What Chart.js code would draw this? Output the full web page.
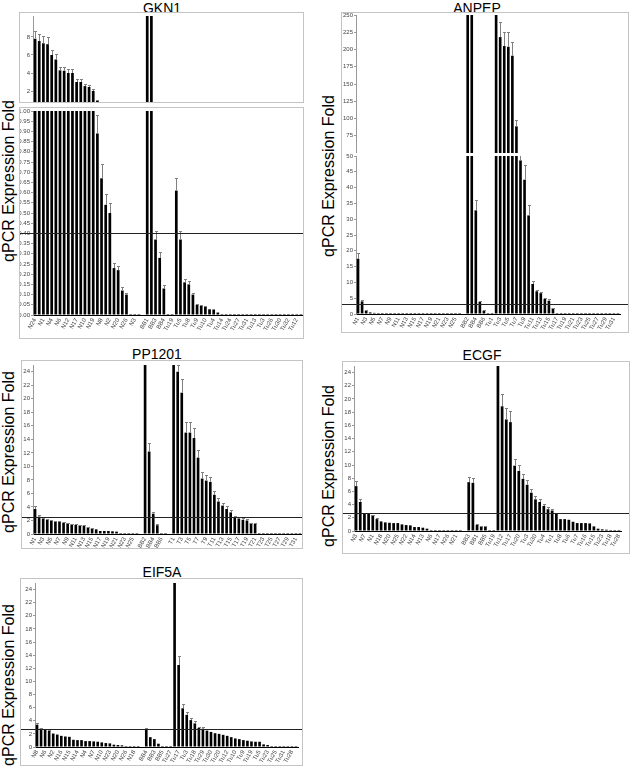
<!DOCTYPE html>
<html>
<head>
<meta charset="utf-8">
<title>qPCR expression fold</title>
<script src="https://cdn.jsdelivr.net/npm/chart.js@4.4.1/dist/chart.umd.min.js"></script>
<style>
  body { margin: 0; width: 631px; height: 768px; position: relative; overflow: hidden; background: #fff;
         font-family: "Liberation Sans", Arial, sans-serif; color: #000; }
  .box { position: absolute; border: 1px solid #c4c4c4; box-sizing: border-box; }
  canvas { position: absolute; }
  .title { position: absolute; font-size: 14px; transform: translate(-50%, -50%); white-space: nowrap; }
  .ytitle { position: absolute; font-size: 16px; transform: translate(-50%, -50%) rotate(-90deg); white-space: nowrap; }
</style>
</head>
<body>
<div class="title" style="left:162px;top:8px">GKN1</div>
<div class="title" style="left:477px;top:8px">ANPEP</div>
<div class="title" style="left:157px;top:354px">PP1201</div>
<div class="title" style="left:482px;top:355px">ECGF</div>
<div class="title" style="left:162px;top:572px">EIF5A</div>
<div class="ytitle" style="left:9px;top:181px">qPCR Expression Fold</div>
<div class="ytitle" style="left:329px;top:176px">qPCR Expression Fold</div>
<div class="ytitle" style="left:9px;top:452px">qPCR Expression Fold</div>
<div class="ytitle" style="left:329px;top:466px">qPCR Expression Fold</div>
<div class="ytitle" style="left:9px;top:685px">qPCR Expression Fold</div>

<script>
// ---- data: N = normal, B = borderline, T = tumour samples ----
const seq = (p, a, b) => Array.from({ length: b - a + 1 }, (_, i) => p + (a + i));

// GKN1
const gknNLab = ['N24','N11','N1','N5','N4','N14','N6','N9','N12','N13','N17','N21','N10','N7','N19','N15','N8','N16','N2','N18','N20','N22','N26','N23','N3','N25'];
const gknBLab = ['BB1','BB2','BB3','BB5','BB4','BB6'];
const gknTLab = ['Tu19','Tu1','Tu5','Tu2','Tu8','Tu6','Tu9','Tu7','Tu10','Tu11','Tu4','Tu15','Tu14','Tu16','Tu24','Tu17','Tu27','Tu18','Tu31','Tu20','Tu13','Tu21','Tu3','Tu22','Tu26','Tu23','Tu30','Tu25','Tu32','Tu28','Tu12','Tu29'];
const gknN = [7.8, 7.55, 7.3, 7.2, 6.0, 5.5, 4.3, 4.25, 4.0, 4.0, 3.0, 3.0, 2.55, 2.45, 2.0, 0.89, 0.67, 0.54, 0.50, 0.23, 0.22, 0.12, 0.10, 0.004, 0.003, 0.003];
const gknNErr = [0.9, 0.8, 0.8, 0.8, 0.6, 0.6, 0.4, 0.4, 0.4, 0.4, 0.3, 0.3, 0.2, 0.2, 0.2, 0.09, 0.07, 0.055, 0.05, 0.025, 0.02, 0.015, 0.01];
const gknB = [15, 15, 0.37, 0.28, 0.13, 0.003];
const gknBErr = [0, 0, 0.04, 0.03, 0.015];
const gknT = [0.003, 0.61, 0.37, 0.16, 0.15, 0.10, 0.05, 0.046, 0.04, 0.028, 0.027, 0.012, 0.005, 0.004, 0.004, 0.003,
              0.003, 0.003, 0.003, 0.003, 0.003, 0.003, 0.003, 0.003, 0.003, 0.003, 0.003, 0.003, 0.003, 0.003, 0.003, 0.003];
const gknTErr = [0, 0.06, 0.04, 0.015, 0.015, 0.008, 0.003, 0.003, 0.003];
const gknHighTicks = [2, 4, 6, 8];
const gknLowTicks = [0, 0.05, 0.1, 0.15, 0.2, 0.25, 0.3, 0.35, 0.4, 0.45, 0.5, 0.55, 0.6, 0.65, 0.7, 0.75, 0.8, 0.85, 0.9, 0.95, 1];

// ANPEP
const apNLab = seq('N', 1, 26);
const apBLab = seq('BB', 2, 7);
const apTLab = seq('Tu', 1, 32);
const apN = [17.5, 4.0, 1.05, 0.5, 0.35, 0.3, 0.3, 0.25, 0.25, 0.2, 0.2, 0.2, 0.2, 0.15, 0.15, 0.15, 0.15, 0.1, 0.1, 0.1, 0.1, 0.1, 0.1, 0.1, 0.1, 0.1];
const apNErr = [1.8, 0.4, 0.1];
const apB = [270, 270, 32.8, 3.8, 1.05, 0.3];
const apBErr = [0, 0, 3.2, 0.4, 0.1];
const apT = [0.2, 270, 218, 205, 204, 191, 88.6, 48.6, 42.5, 31.2, 9.5, 7.2, 6.6, 4.8, 4.2, 1.8,
             0.2, 0.2, 0.2, 0.2, 0.2, 0.2, 0.15, 0.15, 0.15, 0.15, 0.15, 0.1, 0.1, 0.1, 0.1, 0.1];
const apTErr = [0, 0, 22, 21, 21, 20, 8.6, 2, 4.5, 3.4, 1.1, 0.5, 0.5, 0.4, 0.4, 0.1];
const apHighTicks = [75, 100, 125, 150, 175, 200, 225, 250];
const apLowTicks = [0, 5, 10, 15, 20, 25, 30, 35, 40, 45, 50];

// PP1201
const ppNLab = seq('N', 1, 26);
const ppBLab = seq('BB', 2, 7);
const ppTLab = seq('T', 1, 32);
const ppN = [3.7, 2.57, 2.27, 2.07, 1.97, 1.88, 1.78, 1.68, 1.58, 1.43, 1.33, 1.28, 1.23, 0.99, 0.84, 0.69, 0.44, 0.44, 0.44, 0.4, 0.35, 0.15, 0.15, 0.1, 0.1, 0.1];
const ppNErr = [0.4, 0.2, 0.1, 0.1, 0.1, 0.1, 0.1, 0.1, 0.1, 0.1, 0.1, 0.1, 0.1, 0.1, 0.1];
const ppB = [26, 12.2, 3.0, 1.3, 0.15, 0.1];
const ppBErr = [0, 1.2, 0.3, 0.15];
const ppT = [26, 24.0, 20.9, 15.0, 15.0, 14.2, 11.3, 8.2, 7.9, 7.7, 5.8, 4.8, 4.2, 3.7, 3.2, 2.4, 2.3, 2.1, 2.0, 1.6, 1.5,
             0.15, 0.15, 0.15, 0.1, 0.1, 0.1, 0.1, 0.1, 0.1, 0.1, 0.1];
const ppTErr = [0, 1, 2.1, 1.6, 1.5, 1.5, 1.1, 0.9, 0.8, 0.8, 0.6, 0.5, 0.4, 0.4, 0.3, 0.2, 0.2, 0.2, 0.2, 0.1, 0.1];

// ECGF
const ecNLab = ['N3','N2','N7','N4','N1','N5','N18','N8','N20','N9','N25','N10','N22','N11','N14','N12','N13','N15','N6','N16','N17','N19','N26','N23','N21','N24'];
const ecBLab = ['BB3','BB4','BB1','BB2','BB5','BB6'];
const ecTLab = ['Tu19','Tu2','Tu12','Tu5','Tu17','Tu9','Tu20','Tu10','Tu3','Tu11','Tu30','Tu13','Tu4','Tu14','Tu1','Tu21','Tu8','Tu22','Tu6','Tu24','Tu7','Tu25','Tu16','Tu26','Tu15','Tu27','Tu23','Tu29','Tu18','Tu31','Tu28'];
const ecN = [6.8, 4.4, 2.6, 2.6, 2.4, 1.8, 1.45, 1.3, 1.25, 1.2, 1.2, 1.0, 0.9, 0.85, 0.6, 0.6, 0.5, 0.35, 0.15, 0.1, 0.1, 0.1, 0.1, 0.1, 0.08, 0.05];
const ecNErr = [0.7, 0.5, 0.1, 0.1, 0.1, 0.1];
const ecB = [7.4, 7.3, 0.95, 0.7, 0.75, 0.1];
const ecBErr = [0.8, 0.7, 0.05, 0.05, 0.05];
const ecT = [0.05, 26, 18.9, 16.9, 16.5, 9.9, 9.1, 7.9, 7.0, 5.8, 4.8, 4.4, 3.8, 3.3, 3.1, 2.6, 1.8, 1.8, 1.7, 1.4,
             1.2, 1.2, 1.2, 1.15, 0.7, 0.35, 0.25, 0.2, 0.15, 0.12, 0.08];
const ecTErr = [0, 0, 1.9, 1.7, 1.7, 1.0, 0.9, 0.8, 0.7, 0.6, 0.5, 0.4, 0.3, 0.3, 0.2, 0.1];

// EIF5A
const eiNLab = ['N8','N1','N6','N3','N2','N5','N16','N9','N15','N11','N14','N12','N4','N13','N7','N17','N10','N19','N23','N21','N20','N22','N26','N24','N18','N25'];
const eiBLab = ['BB4','BB2','BB3','BB1','BB5','BB6'];
const eiTLab = ['Tu27','Tu1','Tu17','Tu2','Tu3','Tu4','Tu18','Tu6','Tu29','Tu7','Tu30','Tu8','Tu20','Tu11','Tu12','Tu13','Tu10','Tu14','Tu9','Tu15','Tu19','Tu16','Tu5','Tu21','Tu23','Tu22','Tu25','Tu24','Tu31','Tu26','Tu28','Tu32'];
const eiN = [3.4, 2.85, 2.6, 2.5, 2.05, 1.9, 1.7, 1.6, 1.55, 1.1, 1.05, 1.05, 0.9, 0.9, 0.85, 0.8, 0.7, 0.6, 0.55, 0.35, 0.3, 0.25, 0.15, 0.1, 0.08, 0.05];
const eiNErr = [0.3, 0.1, 0.1, 0.1];
const eiB = [2.8, 1.5, 1.2, 0.5, 0.15, 0.05];
const eiBErr = [0.15];
const eiT = [0.05, 26, 12.5, 5.9, 4.9, 4.1, 3.6, 2.9, 2.8, 2.5, 2.3, 2.1, 2.0, 1.85, 1.7, 1.5, 1.3, 1.2, 1.05, 0.95,
             0.85, 0.8, 0.8, 0.4, 0.3, 0.1, 0.05, 0.05, 0.05, 0.05, 0.05, 0.05];
const eiTErr = [0, 0, 1.3, 0.6, 0.4, 0.3, 0.3, 0.2, 0.2];

const ticks25 = [0, 2, 4, 6, 8, 10, 12, 14, 16, 18, 20, 22, 24];

// ---- helpers ----
const pad = (arr, n) => arr.concat(new Array(n - arr.length).fill(0));
// join groups; '' / null marks an empty slot between groups
function joinGroups(groups, gaps) {
  const labels = [], values = [], errors = [];
  groups.forEach((g, i) => {
    if (i > 0 && gaps[i - 1]) { labels.push(''); values.push(null); errors.push(0); }
    labels.push(...g.lab);
    values.push(...g.val);
    errors.push(...pad(g.err, g.val.length));
  });
  return { labels, values, errors };
}

Chart.defaults.font.family = '"Liberation Sans", Arial, sans-serif';
Chart.defaults.animation = false;

const errorBars = {
  id: 'errorBars',
  afterDatasetsDraw(chart) {
    const ds = chart.data.datasets[0];
    const meta = chart.getDatasetMeta(0);
    const y = chart.scales.y;
    const { ctx, chartArea: a } = chart;
    ctx.save();
    ctx.beginPath();
    ctx.rect(a.left, a.top, a.right - a.left, a.bottom - a.top);
    ctx.clip();
    ctx.strokeStyle = '#808080';
    ctx.lineWidth = 1;
    meta.data.forEach((bar, i) => {
      const e = ds.errors[i];
      if (!e || ds.data[i] == null) return;
      const x = Math.round(bar.x) + 0.5;
      const top = Math.round(y.getPixelForValue(ds.data[i] + e)) + 0.5;
      ctx.beginPath();
      ctx.moveTo(x, bar.y);
      ctx.lineTo(x, top);
      ctx.moveTo(x - 1.5, top);
      ctx.lineTo(x + 1.5, top);
      ctx.stroke();
    });
    ctx.restore();
  }
};

const refLine = {
  id: 'refLine',
  afterDatasetsDraw(chart, args, opts) {
    if (opts.value == null) return;
    const { ctx } = chart;
    const y = Math.round(chart.scales.y.getPixelForValue(opts.value)) + 0.5;
    ctx.save();
    ctx.strokeStyle = '#222';
    ctx.lineWidth = 1;
    ctx.beginPath();
    ctx.moveTo(0, y);
    ctx.lineTo(chart.width, y);
    ctx.stroke();
    ctx.restore();
  }
};

Chart.register(errorBars, refLine);

function addBox(l, t, w, h) {
  const d = document.createElement('div');
  d.className = 'box';
  Object.assign(d.style, { left: l + 'px', top: t + 'px', width: w + 'px', height: h + 'px' });
  document.body.appendChild(d);
}

function addCanvas(l, t, w, h) {
  const c = document.createElement('canvas');
  c.width = w;
  c.height = h;
  Object.assign(c.style, { left: l + 'px', top: t + 'px', width: w + 'px', height: h + 'px' });
  document.body.appendChild(c);
  return c;
}

// label every other bar, counting from the start of each group
const groupTick = labels => (value, index) => {
  const lab = labels[index];
  if (!lab) return '';
  let start = index;
  while (start > 0 && labels[start - 1] !== '') start--;
  return (index - start) % 2 === 0 ? lab : '';
};

function barChart(canvas, d, o) {
  const yTicks = { font: { size: 6 }, color: '#444', padding: 1, autoSkip: false };
  if (o.fmt) yTicks.callback = o.fmt;
  return new Chart(canvas, {
    type: 'bar',
    data: {
      labels: d.labels,
      datasets: [{
        data: d.values,
        errors: d.errors,
        backgroundColor: '#000',
        barPercentage: 0.65,
        categoryPercentage: 1,
        minBarLength: o.top ? 0 : 1,
        clip: 0
      }]
    },
    options: {
      responsive: false,
      events: [],
      layout: { padding: { top: o.padTop, right: o.padRight, bottom: 0, left: 0 } },
      plugins: { legend: { display: false }, tooltip: { enabled: false }, refLine: { value: o.line } },
      scales: {
        x: {
          display: !o.top,
          offset: true,
          grid: { display: false, drawTicks: false },
          border: { color: '#000' },
          ticks: { font: { size: 6 }, color: '#444', padding: 2, autoSkip: false,
                   minRotation: 60, maxRotation: 60, callback: groupTick(d.labels) },
          afterFit: s => { s.height = o.xH || 0; s.paddingLeft = 0; s.paddingRight = 0; }
        },
        y: {
          min: o.min,
          max: o.max,
          beginAtZero: false,
          grid: { drawOnChartArea: false, tickLength: 2, color: '#999' },
          border: { color: '#999' },
          ticks: yTicks,
          afterBuildTicks: s => { s.ticks = o.ticks.map(v => ({ value: v })); },
          afterFit: s => { s.width = o.yW; s.paddingTop = 0; s.paddingBottom = 0; }
        }
      }
    }
  });
}

// ---- panels ----
const gkn = joinGroups([
  { lab: gknNLab, val: gknN, err: gknNErr },
  { lab: gknBLab, val: gknB, err: gknBErr },
  { lab: gknTLab, val: gknT, err: gknTErr }
], [true, false]);
addBox(19, 12, 285, 91);
barChart(addCanvas(20, 13, 283, 89), gkn,
  { min: 0.78, max: 10.33, ticks: gknHighTicks, yW: 13, padTop: 3, padRight: 0, top: true });
addBox(19, 107, 285, 232);
barChart(addCanvas(20, 108, 283, 230), gkn,
  { min: 0, max: 1, ticks: gknLowTicks, fmt: v => v.toFixed(2), yW: 13, padTop: 3, padRight: 0, xH: 23, line: 0.4 });

const ap = joinGroups([
  { lab: apNLab, val: apN, err: apNErr },
  { lab: apBLab, val: apB, err: apBErr },
  { lab: apTLab, val: apT, err: apTErr }
], [true, false]);
addBox(341, 12, 288, 321);
barChart(addCanvas(342, 13, 286, 140), ap,
  { min: 50, max: 250, ticks: apHighTicks, yW: 14, padTop: 2, padRight: 8, top: true });
barChart(addCanvas(342, 153, 286, 178), ap,
  { min: 0, max: 50, ticks: apLowTicks, yW: 14, padTop: 3, padRight: 8, xH: 17, line: 3.2 });

const pp = joinGroups([
  { lab: ppNLab, val: ppN, err: ppNErr },
  { lab: ppBLab, val: ppB, err: ppBErr },
  { lab: ppTLab, val: ppT, err: ppTErr }
], [true, true]);
addBox(21, 360, 282, 189);
barChart(addCanvas(22, 361, 280, 187), pp,
  { min: 0, max: 25, ticks: ticks25, yW: 11, padTop: 4, padRight: 0, xH: 14, line: 2.5 });

const ec = joinGroups([
  { lab: ecNLab, val: ecN, err: ecNErr },
  { lab: ecBLab, val: ecB, err: ecBErr },
  { lab: ecTLab, val: ecT, err: ecTErr }
], [true, false]);
addBox(342, 361, 288, 193);
barChart(addCanvas(343, 362, 286, 191), ec,
  { min: 0, max: 25, ticks: ticks25, yW: 11, padTop: 4, padRight: 8, xH: 22, line: 2.7 });

const ei = joinGroups([
  { lab: eiNLab, val: eiN, err: eiNErr },
  { lab: eiBLab, val: eiB, err: eiBErr },
  { lab: eiTLab, val: eiT, err: eiTErr }
], [true, false]);
addBox(20, 578, 283, 188);
barChart(addCanvas(21, 579, 281, 186), ei,
  { min: 0, max: 25, ticks: ticks25, yW: 14, padTop: 4, padRight: 4, xH: 18, line: 2.7 });
</script>
</body>
</html>
